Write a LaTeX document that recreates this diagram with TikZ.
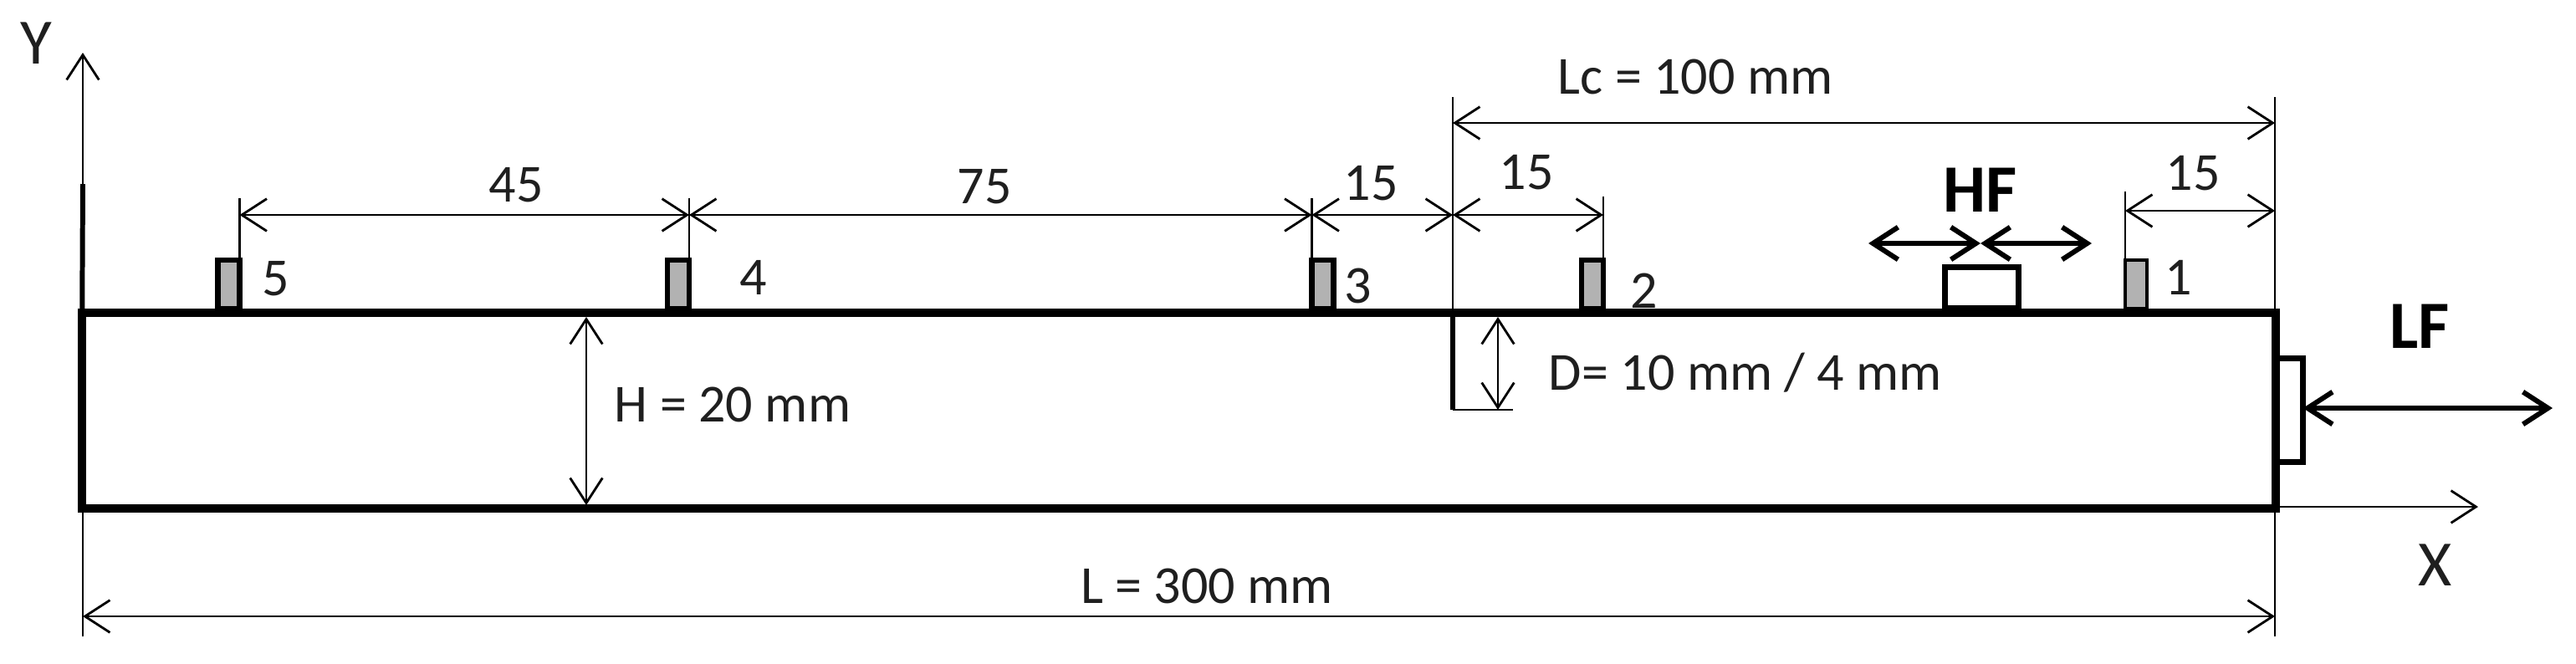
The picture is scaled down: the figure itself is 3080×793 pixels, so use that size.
\documentclass[tikz,border=0pt]{standalone}
\usepackage{fontspec}
\setmainfont{Carlito}
\usetikzlibrary{arrows.meta}

\tikzset{
	LabelStyle/.style = {inner sep=0pt, text depth=0pt, text=black!88, font=\fontsize{18.2}{20}\selectfont},
	BigLabel/.style = {LabelStyle, font=\fontsize{22}{26}\selectfont},
	ForceLabel/.style = {LabelStyle, text=black, font=\fontsize{23}{26}\selectfont\bfseries},
	SensorStyle/.style = {draw, line width=1.9pt, fill=black!30, anchor=south, inner sep=0pt, outer sep=0pt, minimum width=0.26cm, minimum height=0.58cm},
	ExciterStyle/.style = {draw, line width=2pt, fill=white, inner sep=0pt, outer sep=0pt},
	DimLine/.style = {line width=0.8pt, <->},
	ForceArrow/.style = {line width=1.7pt, <->},
	ThinLine/.style = {line width=0.8pt},
	ThickLine/.style = {line width=2.8pt}
}

\begin{document}
\begin{tikzpicture}[x=0.01cm, y=-0.01cm, >={Straight Barb[length=8.5pt,width=11pt]}]
	\useasboundingbox (0,0) rectangle (3080,793);

	% axes and outer extension lines
	\coordinate (Oy) at (99,761);
	\coordinate (Ty) at (99,63);
	\coordinate (Ry) at (99,220);
	\coordinate (Oe) at (2720,761);
	\coordinate (Te) at (2720,116);
	\coordinate (Ox) at (2720,606);
	\coordinate (Tx) at (2963,606);
	\draw[ThinLine, ->] (Oy) -- (Ty);
	\draw[ThinLine] (Oe) -- (Te);
	\draw[ThinLine, ->] (Ox) -- (Tx);

	% sensors
	\foreach \name/\xs in {B/1904,C/1581.5,Dd/811,E/273.5}
		\node[SensorStyle] (\name) at (\xs,369) {};
	\node[SensorStyle, line width=1.2pt] (A) at (2554,369) {};

	\node[ThickLine, draw, inner sep=0pt, outer sep=0pt, minimum width=26.21cm, minimum height=2.34cm] (Beam) at (1409.5,491) {};
	\draw[line width=1.7pt] (Ry) -- (Beam.north west);

	\foreach \name/\corner/\top in {E/north east/237,Dd/north east/237,C/north west/237,B/north east/235,A/north west/229}{
		\coordinate (top\name) at (\name.\corner |- 0,\top);
		\draw[ThinLine] (top\name) -- (\name.\corner);
	}
	\coordinate (dE) at (E.north east |- 0,257);
	\coordinate (dDd) at (Dd.north east |- 0,257);
	\coordinate (dC) at (C.north west |- 0,257);
	\coordinate (dCr) at (1737,257);
	\coordinate (dB) at (B.north east |- 0,257);
	\draw[DimLine] (dE) -- (dDd);
	\draw[DimLine] (dDd) -- (dC);
	\draw[DimLine] (dC) -- (dCr);
	\draw[DimLine] (dCr) -- (dB);

	% crack
	\coordinate (CrTop) at (1737,116);
	\coordinate (CrRoot) at (1737,374);
	\coordinate (CrTip) at (1737,490);
	\coordinate (CrEnd) at (1809,490);
	\draw[ThinLine] (CrTop) -- (CrRoot);
	\draw[line width=1.7pt] (CrRoot) -- (CrTip);
	\draw[ThinLine] (CrTip) -- (CrEnd);

	% dimensions
	\coordinate (LcA) at (1737,147);
	\coordinate (LcB) at (2720,147);
	\coordinate (LA) at (99,737);
	\coordinate (LB) at (2720,737);
	\coordinate (OneA) at (A.north west |- 0,252);
	\coordinate (OneB) at (2720,252);
	\coordinate (HA) at (701,379);
	\coordinate (HB) at (701,604);
	\coordinate (DA) at (1791,379);
	\coordinate (DB) at (1791,490);
	\draw[DimLine] (LcA) -- (LcB);
	\draw[DimLine] (LA) -- (LB);
	\draw[DimLine] (OneA) -- (OneB);
	\draw[DimLine] (HA) -- (HB);
	\draw[DimLine] (DA) -- (DB);

	% exciters
	\node[ExciterStyle, anchor=south, minimum width=0.88cm, minimum height=0.495cm] (HFbox) at (2369.5,369) {};
	\node[ExciterStyle, anchor=west, minimum width=0.315cm, minimum height=1.24cm] (LFbox) at (2722,490.5) {};
	\coordinate (HFl) at (2234,291);
	\coordinate (HFm) at (2368,291);
	\coordinate (HFr) at (2501,291);
	\coordinate (LFend) at (3052,488);
	\draw[ForceArrow] (HFl) -- (HFm);
	\draw[ForceArrow] (HFm) -- (HFr);
	\draw[ForceArrow] (LFbox.east |- LFend) -- (LFend);

	% labels
	\node[BigLabel] (labY) at (43,52) {Y};
	\node[BigLabel] (labX) at (2912,676) {X};
	\node[ForceLabel] (labHF) at (2368,227) {HF};
	\node[ForceLabel] (labLF) at (2893,390) {LF};
	\node[LabelStyle] (lab45) at (617,221) {45};
	\node[LabelStyle] (lab75) at (1177,223) {75};
	\node[LabelStyle] (lab15a) at (1639,219) {15};
	\node[LabelStyle] (lab15b) at (1825,206) {15};
	\node[LabelStyle] (lab15c) at (2622,207) {15};
	\node[LabelStyle] (lab5) at (330,333) {5};
	\node[LabelStyle] (lab4) at (901,332) {4};
	\node[LabelStyle] (lab3) at (1624,342) {3};
	\node[LabelStyle] (lab2) at (1966,348) {2};
	\node[LabelStyle] (lab1) at (2605,332) {1};
	\node[LabelStyle] (labH) at (876,484) {H = 20 mm};
	\node[LabelStyle] (labD) at (2087,444) {D= 10 mm / 4 mm};
	\node[LabelStyle] (labLc) at (2027,92) {Lc = 100 mm};
	\node[LabelStyle] (labL) at (1443,701) {L = 300 mm};
\end{tikzpicture}
\end{document}
